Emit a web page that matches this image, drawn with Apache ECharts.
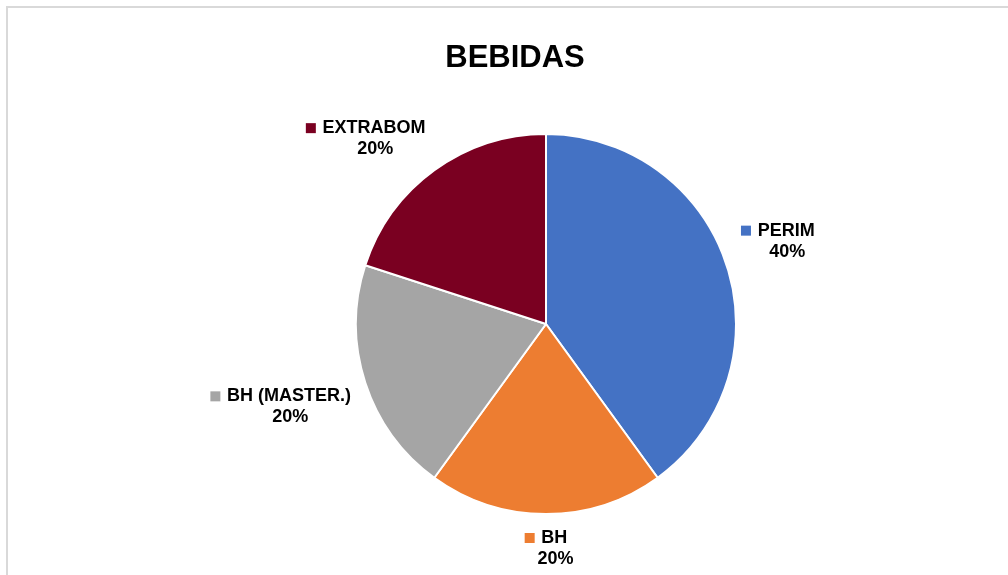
<!DOCTYPE html>
<html>
<head>
<meta charset="utf-8">
<script src="https://cdn.jsdelivr.net/npm/echarts@6/dist/echarts.min.js"></script>
<style>
  html, body { margin: 0; padding: 0; background: #fff; }
  #chart { width: 1008px; height: 575px; }
</style>
</head>
<body>
<div id="chart"></div>
<script>
// dados
const categories = ['PERIM', 'BH', 'BH (MASTER.)', 'EXTRABOM'];
const values = [40, 20, 20, 20];
const colors = ['#4472C4', '#ED7D31', '#A5A5A5', '#7A0021'];

const cx = 546, cy = 324, radius = 190;
const labelGap = 15;

const total = values.reduce((a, b) => a + b, 0);

// rich styles: one square per slice colour
const rich = {
  name: { fontSize: 18, fontWeight: 'bold', color: '#000', fontFamily: 'Liberation Sans, Arial, sans-serif', lineHeight: 21 },
  pct: { fontSize: 18, fontWeight: 'bold', color: '#000', fontFamily: 'Liberation Sans, Arial, sans-serif', lineHeight: 21, padding: [0, 0, 0, 19] }
};
colors.forEach((c, i) => {
  rich['sq' + i] = { width: 10, height: 10, backgroundColor: c };
});

const chart = echarts.init(document.getElementById('chart'));
chart.setOption({
  backgroundColor: '#fff',
  animation: false,
  title: {
    text: 'BEBIDAS',
    left: 510,
    top: 38,
    textAlign: 'center',
    textStyle: { fontSize: 31, fontWeight: 'bold', color: '#000', fontFamily: 'Liberation Sans, Arial, sans-serif' }
  },
  graphic: [
    {
      type: 'rect',
      shape: { x: 7, y: 7, width: 1004, height: 600 },
      style: { fill: 'none', stroke: '#d9d9d9', lineWidth: 2 },
      silent: true
    }
  ],
  series: [
    {
      type: 'pie',
      center: [cx, cy],
      radius: radius,
      startAngle: 90,
      clockwise: true,
      itemStyle: { borderColor: '#fff', borderWidth: 2 },
      label: {
        show: true,
        position: 'outside',
        formatter: p => '{sq' + p.dataIndex + '|}  {name|' + p.name + '}\n{pct|' + Math.round(p.percent) + '%}',
        rich: rich
      },
      labelLine: { show: false },
      // like Excel: the label box corner nearest the pie sits on the slice's middle ray, just outside the rim
      labelLayout: params => {
        const i = params.dataIndex;
        let before = 0;
        for (let k = 0; k < i; k++) before += values[k];
        const mid = (before + values[i] / 2) / total * Math.PI * 2;
        const dx = Math.sin(mid), dy = -Math.cos(mid);
        const sx = Math.abs(dx) < 1e-6 ? 0 : Math.sign(dx);
        const sy = Math.abs(dy) < 1e-6 ? 0 : Math.sign(dy);
        const w = params.labelRect.width, h = params.labelRect.height;
        const R = radius + labelGap;
        return {
          x: cx + R * dx + sx * w / 2,
          y: cy + R * dy + sy * h / 2,
          align: 'center',
          verticalAlign: 'middle'
        };
      },
      data: categories.map((name, i) => ({
        name: name,
        value: values[i],
        itemStyle: { color: colors[i] }
      }))
    }
  ]
});
</script>
</body>
</html>
